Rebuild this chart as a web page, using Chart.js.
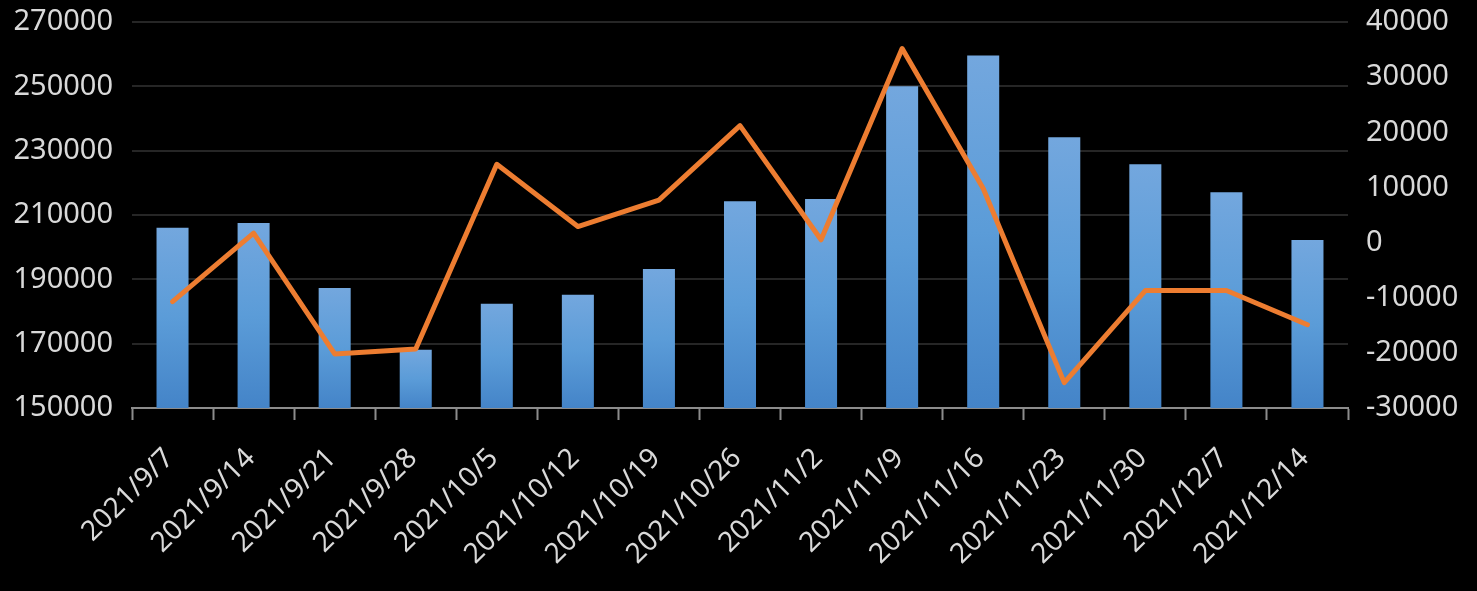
<!DOCTYPE html>
<html>
<head>
<meta charset="utf-8">
<script src="https://cdn.jsdelivr.net/npm/chart.js@4.4.1/dist/chart.umd.min.js"></script>
<style>
  html, body { margin: 0; padding: 0; background: #000; }
  #wrap { width: 1477px; height: 591px; }
</style>
</head>
<body>
<div id="wrap"><canvas id="combo-chart"></canvas></div>
<script>
const WEEKS = [
  '2021/9/7', '2021/9/14', '2021/9/21', '2021/9/28', '2021/10/5',
  '2021/10/12', '2021/10/19', '2021/10/26', '2021/11/2', '2021/11/9',
  '2021/11/16', '2021/11/23', '2021/11/30', '2021/12/7', '2021/12/14'
];

// weekly totals (left axis)
const TOTALS = [
  206000, 207500, 187300, 168100, 182400,
  185200, 193200, 214300, 215000, 250000,
  259600, 234200, 225800, 217100, 202200
];

// week-on-week change (right axis)
const CHANGES = [
  -10700, 1700, -20200, -19300, 14200,
  2900, 7700, 21200, 500, 35200,
  9800, -25400, -8700, -8700, -14900
];

const LEFT_TICKS = { min: 150000, max: 270000, step: 20000 };
const RIGHT_TICKS = { min: -30000, max: 40000, step: 10000 };

const TEXT_COLOR = '#d9d9d9';
const FONT_FAMILY = '"Noto Sans", "Open Sans", sans-serif';

function barGradient(context) {
  const chart = context.chart;
  const yScale = chart.scales.y;
  if (!chart.chartArea || !yScale || context.dataIndex === undefined) {
    return '#5b9bd5';
  }
  const value = TOTALS[context.dataIndex];
  const top = yScale.getPixelForValue(value);
  const bottom = yScale.getPixelForValue(LEFT_TICKS.min);
  const g = chart.ctx.createLinearGradient(0, top, 0, bottom);
  g.addColorStop(0, '#73a7de');
  g.addColorStop(0.5, '#5b9cd8');
  g.addColorStop(1, '#4484c8');
  return g;
}

// nudge the rotated date labels so they hang like Excel's
const labelShift = {
  id: 'labelShift',
  beforeDraw(chart, args, opts) {
    const items = chart.scales.x.getLabelItems(chart.chartArea);
    items.forEach((item) => {
      const t = item.options.translation;
      t[0] += opts.dx;
      t[1] += opts.dy;
    });
  }
};

const plainNumber = (value) => String(value);

// fixed side widths, and no extra top padding from the tick labels
function fitSide(width) {
  return function (scale) {
    scale.width = width;
    scale.paddingTop = 0;
    scale.paddingBottom = 0;
  };
}

const ctx = document.getElementById('combo-chart');

new Chart(ctx, {
  type: 'bar',
  data: {
    labels: WEEKS,
    datasets: [
      {
        type: 'line',
        label: 'change',
        data: CHANGES,
        yAxisID: 'y1',
        borderColor: '#ed7d31',
        borderWidth: 5,
        borderJoinStyle: 'round',
        borderCapStyle: 'round',
        pointRadius: 0,
        tension: 0,
        order: 0
      },
      {
        type: 'bar',
        label: 'total',
        data: TOTALS,
        yAxisID: 'y',
        backgroundColor: barGradient,
        borderWidth: 0,
        categoryPercentage: 1,
        barPercentage: 0.395,
        order: 1
      }
    ]
  },
  plugins: [labelShift],
  options: {
    responsive: true,
    maintainAspectRatio: false,
    animation: false,
    layout: {
      padding: { top: 22, left: 0, right: 0, bottom: 0 }
    },
    scales: {
      x: {
        offset: true,
        grid: {
          offset: true,
          drawOnChartArea: false,
          drawTicks: true,
          tickLength: 12,
          tickWidth: 2,
          tickColor: '#8c8c8c'
        },
        border: { color: '#8c8c8c', width: 2 },
        ticks: {
          color: TEXT_COLOR,
          font: { family: FONT_FAMILY, size: 28 },
          minRotation: 45,
          maxRotation: 45,
          autoSkip: false,
          padding: 4
        },
        afterFit(scale) { scale.height = 183; }
      },
      y: {
        position: 'left',
        min: LEFT_TICKS.min,
        max: LEFT_TICKS.max,
        ticks: {
          stepSize: LEFT_TICKS.step,
          color: TEXT_COLOR,
          font: { family: FONT_FAMILY, size: 29 },
          padding: 19,
          callback: plainNumber
        },
        grid: {
          color: '#262626',
          lineWidth: 2,
          drawTicks: false
        },
        border: { display: false },
        afterFit: fitSide(132)
      },
      y1: {
        position: 'right',
        min: RIGHT_TICKS.min,
        max: RIGHT_TICKS.max,
        ticks: {
          stepSize: RIGHT_TICKS.step,
          color: TEXT_COLOR,
          font: { family: FONT_FAMILY, size: 29 },
          padding: 18,
          callback: plainNumber
        },
        grid: { drawOnChartArea: false, drawTicks: false },
        border: { display: false },
        afterFit: fitSide(129)
      }
    },
    plugins: {
      legend: { display: false },
      tooltip: { enabled: false },
      labelShift: { dx: -3, dy: 18 }
    }
  }
});
</script>
</body>
</html>
